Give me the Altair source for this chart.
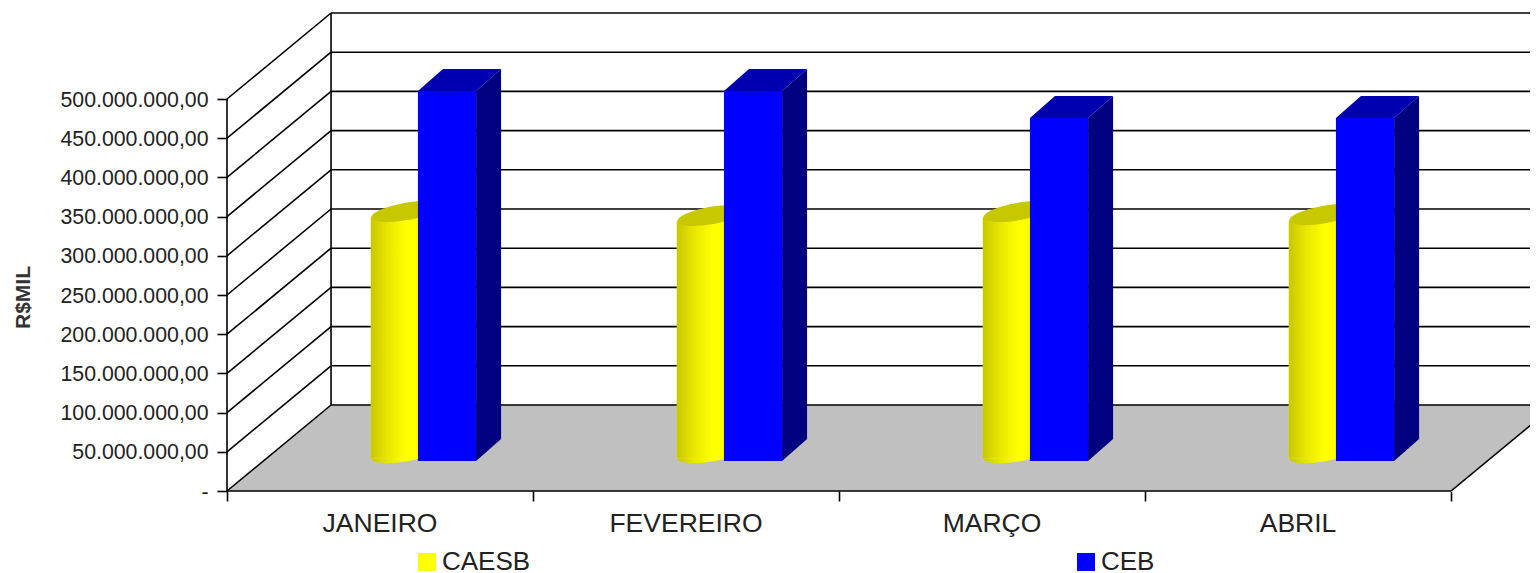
import altair as alt
import pandas as pd

months = ["JANEIRO", "FEVEREIRO", "MARÇO", "ABRIL"]
caesb = [307.5e6, 302.5e6, 307.5e6, 303.5e6]
ceb = [472e6, 472e6, 437.5e6, 437.5e6]
ticks = [0, 50e6, 100e6, 150e6, 200e6, 250e6, 300e6, 350e6, 400e6, 450e6, 500e6]

# projection of the chart's depth axis, in axis units
DEPTH_X, DEPTH_Y = 0.34, 109.7e6
PLOT_W, PLOT_H = 1303, 483
XMAX, YMAX = PLOT_W / 306, PLOT_H / 392 * 500e6

# placement of the columns inside one category
BOX_L, BOX_R, BOX_BASE = 0.624, 0.814, 38.3e6
BOX_DX, BOX_DY = 0.0817, 28e6
CYL_L, CYL_R, CYL_BASE, CYL_RIM = 0.47, 0.70, 49e6, 7.6e6
CYL_C = (CYL_L + CYL_R) / 2

x_scale = alt.Scale(domain=[0, XMAX], nice=False, zero=False)
y_scale = alt.Scale(domain=[0, YMAX], nice=False, zero=False)
label_expr = ("datum.value == 0 ? '-\u00a0\u00a0\u00a0\u00a0' : "
              "replace(replace(replace(format(datum.value, ',.2f'), regexp(',', 'g'), '#'), "
              "regexp('[.]', 'g'), ','), regexp('#', 'g'), '.')")
x_axis = alt.Axis(values=[0, 1, 2, 3, 4], labels=False, title=None, domain=False, grid=False,
                  tickSize=10, tickColor="#000000", tickWidth=1.6)
y_axis = alt.Axis(values=ticks, labelExpr=label_expr, title="R$MIL", titleFont="Liberation Sans",
                  titleFontSize=21, titleFontWeight="bold", titleColor="#333333",
                  titleX=-194, titleY=289, domain=False, grid=False, tickSize=10,
                  tickColor="#000000", tickWidth=1.6, labelPadding=9, labelOffset=1,
                  labelFont="Liberation Sans", labelFontSize=21.3, labelColor="#222222")


def qx(field):
    return alt.X(field, type="quantitative", scale=x_scale, axis=x_axis)


def qy(field):
    return alt.Y(field, type="quantitative", scale=y_scale, axis=y_axis)


X, Y = qx("x"), qy("y")
color_scale = alt.Scale(domain=["CAESB", "CEB"], range=["#ffff00", "#0000ff"])
LINE = dict(color="#000000", strokeWidth=1.6)

# floor
floor = alt.Chart(pd.DataFrame({
    "y": [0, DEPTH_Y], "x": [0, DEPTH_X], "x2": [4, 4 + DEPTH_X],
})).mark_area(orient="horizontal", color="#c0c0c0", clip=True).encode(x=X, x2="x2:Q", y=Y)

# walls
walls = pd.DataFrame({"v": ticks})
walls["bx"] = DEPTH_X
walls["by"] = walls["v"] + DEPTH_Y
walls["end"] = 4 + DEPTH_X
walls["zero"] = 0.0
diag = alt.Chart(walls).mark_rule(**LINE).encode(x=qx("zero"), x2="bx:Q", y=qy("v"), y2="by:Q")
back = alt.Chart(walls).mark_rule(clip=True, **LINE).encode(x=qx("bx"), x2="end:Q", y=qy("by"))
verticals = alt.Chart(pd.DataFrame({
    "x": [0, DEPTH_X], "y": [0, DEPTH_Y], "y2": [500e6, 500e6 + DEPTH_Y],
})).mark_rule(**LINE).encode(x=X, y=Y, y2="y2:Q")
right_edge = alt.Chart(pd.DataFrame({
    "x": [4], "x2": [4 + DEPTH_X], "y": [0], "y2": [DEPTH_Y],
})).mark_rule(clip=True, **LINE).encode(x=X, x2="x2:Q", y=Y, y2="y2:Q")
front_line = alt.Chart(pd.DataFrame({"x": [0], "x2": [4], "y": [0]})).mark_rule(**LINE).encode(
    x=X, x2="x2:Q", y=Y)

month_text = alt.Chart(pd.DataFrame({
    "x": [i + 0.5 for i in range(4)], "y": [0] * 4, "m": months,
})).mark_text(font="Liberation Sans", fontSize=26.5, color="#222222", dy=33, align="center").encode(
    x=X, y=Y, text="m:N")

# columns
rows_cyl = pd.DataFrame({
    "series": "CAESB",
    "x": [i + CYL_L for i in range(4)], "x2": [i + CYL_R for i in range(4)],
    "c": [i + CYL_C for i in range(4)],
    "top": [CYL_BASE + v for v in caesb],
    "base": [CYL_BASE] * 4,
    "y": [CYL_BASE + v - CYL_RIM for v in caesb], "y2": [CYL_BASE - CYL_RIM] * 4,
})
rows_box = pd.DataFrame({
    "series": "CEB",
    "x": [i + BOX_L for i in range(4)], "x2": [i + BOX_R for i in range(4)],
    "y": [BOX_BASE + v for v in ceb], "y2": [BOX_BASE] * 4,
})

gradient = alt.LinearGradient(
    gradient="linear", x1=0, x2=1, y1=0, y2=0,
    stops=[alt.GradientStop(color="#c8c800", offset=0),
           alt.GradientStop(color="#e8e800", offset=0.25),
           alt.GradientStop(color="#ffff00", offset=0.5),
           alt.GradientStop(color="#ffff00", offset=1)])
ELLIPSE = "M-.985,.174 A1,.25,-10,1,1,.985,-.174 A1,.25,-10,1,1,-.985,.174 Z"

cyl_bottom = alt.Chart(rows_cyl).mark_point(
    shape=ELLIPSE, size=4900, filled=True, opacity=1, fill=gradient, strokeWidth=0
).encode(x=qx("c"), y=qy("base"))
legend = alt.Legend(orient="none", legendX=187, legendY=541, columns=2, columnPadding=542,
                    title=None, symbolType="square", symbolSize=324, symbolStrokeWidth=0,
                    symbolOpacity=1, labelFont="Liberation Sans", labelFontSize=26,
                    labelColor="#222222", labelOffset=2, padding=0, rowPadding=0)
Color = alt.Color("series:N", scale=color_scale, legend=legend)
cyl_front = alt.Chart(rows_cyl).mark_bar(opacity=1).encode(x=X, x2="x2:Q", y=Y, y2="y2:Q", color=Color)
cyl_shade = alt.Chart(rows_cyl).mark_bar(color=gradient).encode(x=X, x2="x2:Q", y=Y, y2="y2:Q")
cyl_top = alt.Chart(rows_cyl).mark_point(
    shape=ELLIPSE, size=4900, filled=True, opacity=1, color="#c8c800", strokeWidth=0
).encode(x=qx("c"), y=qy("top"))

side_rows, top_rows = [], []
for i, v in enumerate(ceb):
    r = i + BOX_R
    side_rows += [dict(g=i, x=r, y=BOX_BASE + v, y2=BOX_BASE),
                  dict(g=i, x=r + BOX_DX, y=BOX_BASE + v + BOX_DY, y2=BOX_BASE + BOX_DY)]
    top_rows += [dict(g=i, y=BOX_BASE + v, x=i + BOX_L, x2=r),
                 dict(g=i, y=BOX_BASE + v + BOX_DY, x=i + BOX_L + BOX_DX, x2=r + BOX_DX)]
box_side = alt.Chart(pd.DataFrame(side_rows)).mark_area(color="#000080").encode(
    x=X, y=Y, y2="y2:Q", detail="g:N")
box_top = alt.Chart(pd.DataFrame(top_rows)).mark_area(orient="horizontal", color="#0000b0").encode(
    x=X, x2="x2:Q", y=Y, detail="g:N")
box_front = alt.Chart(rows_box).mark_bar(opacity=1).encode(x=X, x2="x2:Q", y=Y, y2="y2:Q", color=Color)

chart = alt.layer(
    floor, back, diag, verticals, right_edge, front_line, month_text,
    cyl_bottom, cyl_front, cyl_shade, cyl_top, box_side, box_top, box_front,
).properties(
    width=PLOT_W, height=PLOT_H,
    autosize=alt.AutoSizeParams(type="none"),
    padding={"left": 219, "top": 0, "right": 0, "bottom": 82},
).configure_view(stroke=None)

chart.save("out.html", embed_options={"renderer": "svg", "actions": False})
